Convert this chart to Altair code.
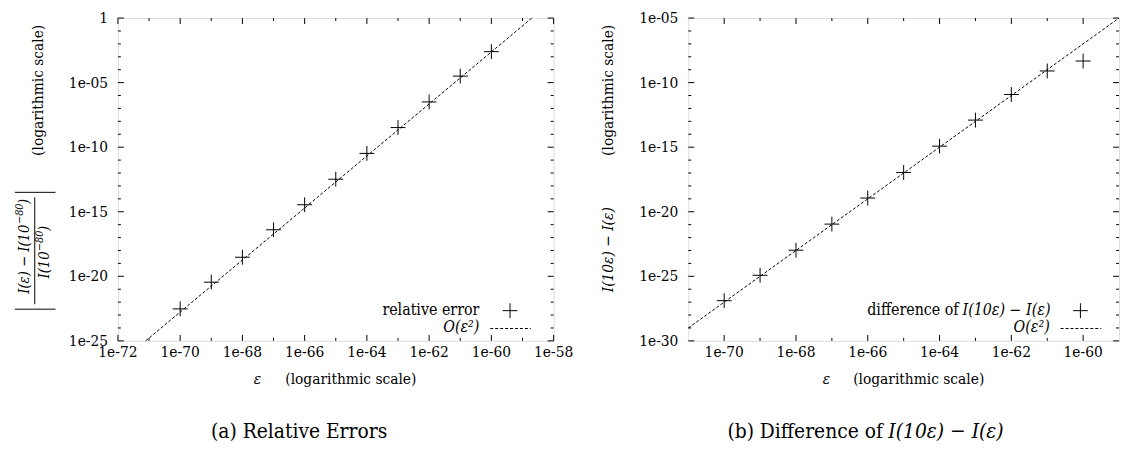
import altair as alt
import pandas as pd

FONT = "DejaVu Serif Condensed"
PLUS = "M-1,0L1,0M0,-1L0,1"

# ---------------- data ----------------
eps = [1e-70, 1e-69, 1e-68, 1e-67, 1e-66, 1e-65, 1e-64, 1e-63, 1e-62, 1e-61, 1e-60]
rel_err = [3.0e-23, 3.5e-21, 3.0e-19, 4.0e-17, 3.5e-15, 3.3e-13, 3.3e-11, 3.3e-9, 3.2e-7, 3.2e-5, 2.5e-3]
diff = [1.3e-27, 1.2e-25, 1.05e-23, 1.1e-21, 1.15e-19, 1.1e-17, 1.2e-15, 1.25e-13, 1.2e-11, 8.0e-10, 4.7e-9]

# O(eps^2) reference lines (end points on the frame)
o_eps_a = [7.8e-72, 2.0e-59]
o_val_a = [1e-25, 1.0]
o_eps_b = [1e-71, 1e-59]
o_val_b = [1e-29, 1e-5]

# axes
x_dom_a = [1e-72, 1e-58]
y_dom_a = [1e-25, 1.0]
x_major_a = [1e-72, 1e-70, 1e-68, 1e-66, 1e-64, 1e-62, 1e-60, 1e-58]
x_lab_a = ["1e-72", "1e-70", "1e-68", "1e-66", "1e-64", "1e-62", "1e-60", "1e-58"]
x_minor_a = [1e-71, 1e-69, 1e-67, 1e-65, 1e-63, 1e-61, 1e-59]
y_major_a = [1.0, 1e-5, 1e-10, 1e-15, 1e-20, 1e-25]
y_lab_a = ["1", "1e-05", "1e-10", "1e-15", "1e-20", "1e-25"]
y_minor_a = [10.0 ** -k for k in range(1, 25) if k % 5]

x_dom_b = [1e-71, 1e-59]
y_dom_b = [1e-30, 1e-5]
x_major_b = [1e-70, 1e-68, 1e-66, 1e-64, 1e-62, 1e-60]
x_lab_b = ["1e-70", "1e-68", "1e-66", "1e-64", "1e-62", "1e-60"]
x_minor_b = [1e-69, 1e-67, 1e-65, 1e-63, 1e-61]
y_major_b = [1e-5, 1e-10, 1e-15, 1e-20, 1e-25, 1e-30]
y_lab_b = ["1e-05", "1e-10", "1e-15", "1e-20", "1e-25", "1e-30"]
y_minor_b = [10.0 ** -k for k in range(6, 30) if k % 5]

H = 326
TS = 15.5   # tick label size
AS = 15.5   # axis title size
CS = 21     # caption size
LS = 16     # legend size
ONE = alt.Data(values=[{}])


def txt(s, x, y, size=AS, align="center", angle=0, style="normal"):
    return alt.Chart(ONE).mark_text(
        text=s, align=align, baseline="middle", angle=angle, fontSize=size,
        font=FONT, fontStyle=style, color="black"
    ).encode(x=alt.value(x), y=alt.value(y))


def seg(x1, x2, y1, y2, dash=None):
    kw = dict(color="black", strokeWidth=1)
    if dash:
        kw["strokeDash"] = dash
    return alt.Chart(ONE).mark_rule(**kw).encode(
        x=alt.value(x1), x2=alt.value(x2), y=alt.value(y1), y2=alt.value(y2))


def panel(W, xdom, ydom, xmaj, xlab, xmin, ymaj, ylab, ymin, yvals, o_eps, o_val, extra):
    xs = alt.Scale(type="log", domain=xdom, nice=False)
    ys = alt.Scale(type="log", domain=ydom, nice=False)
    layers = []
    for vals, L in ((xmaj, 6), (xmin, 3)):
        base = alt.Chart(pd.DataFrame({"v": vals})).mark_rule(color="black", strokeWidth=1)
        layers.append(base.encode(x=alt.X("v:Q", scale=xs, axis=None), y=alt.value(H), y2=alt.value(H - L)))
        layers.append(base.encode(x=alt.X("v:Q", scale=xs, axis=None), y=alt.value(0), y2=alt.value(L)))
    for vals, L in ((ymaj, 6), (ymin, 3)):
        base = alt.Chart(pd.DataFrame({"v": vals})).mark_rule(color="black", strokeWidth=1)
        layers.append(base.encode(y=alt.Y("v:Q", scale=ys, axis=None), x=alt.value(0), x2=alt.value(L)))
        layers.append(base.encode(y=alt.Y("v:Q", scale=ys, axis=None), x=alt.value(W), x2=alt.value(W - L)))
    # tick labels
    layers.append(alt.Chart(pd.DataFrame({"v": xmaj, "t": xlab})).mark_text(
        font=FONT, fontSize=TS, color="black", align="center", baseline="middle"
    ).encode(x=alt.X("v:Q", scale=xs, axis=None), y=alt.value(H + 11), text="t:N"))
    layers.append(alt.Chart(pd.DataFrame({"v": ymaj, "t": ylab})).mark_text(
        font=FONT, fontSize=TS, color="black", align="right", baseline="middle"
    ).encode(y=alt.Y("v:Q", scale=ys, axis=None), x=alt.value(-10), text="t:N"))
    line = alt.Chart(pd.DataFrame({"e": o_eps, "v": o_val})).mark_line(
        color="black", strokeWidth=1, strokeDash=[3, 2]
    ).encode(x=alt.X("e:Q", scale=xs, axis=None), y=alt.Y("v:Q", scale=ys, axis=None))
    pts = alt.Chart(pd.DataFrame({"eps": eps, "val": yvals})).mark_point(
        shape=PLUS, size=225, filled=False, color="black", strokeWidth=1, opacity=1
    ).encode(x=alt.X("eps:Q", scale=xs, axis=None), y=alt.Y("val:Q", scale=ys, axis=None))
    leg = [
        alt.Chart(ONE).mark_point(shape=PLUS, size=225, filled=False, color="black",
                                  strokeWidth=1, opacity=1).encode(x=alt.value(396), y=alt.value(295.5)),
        seg(376, 417, 313.5, 313.5, dash=[3, 2]),
        txt("O(ε²)", 365, 312.5, size=LS, align="right", style="italic"),
    ]
    return alt.layer(pts, line, *layers, *leg, *extra).properties(width=W, height=H)


WA, WB = 440, 435


def rot_expr(parts, x, y0):
    out = []
    y = y0
    for s, size, dx, w in parts:
        out.append(alt.Chart(ONE).mark_text(
            text=s, align="left", baseline="middle", angle=270, fontSize=size,
            font=FONT, fontStyle="italic", color="black"
        ).encode(x=alt.value(x + dx), y=alt.value(y)))
        y -= w
    return out


extra_a = [
    txt("(logarithmic scale)", -81, 73, angle=270),
    *rot_expr([("I(ε) − I(10", 14.8, 0, 70.6), ("−80", 10.8, -5, 20.1), (")", 14.8, 0, 5.1)], -94, 278.4),
    *rot_expr([("I(10", 14.8, 0, 27.8), ("−80", 10.8, -5, 20.1), (")", 14.8, 0, 5.1)], -73.5, 263),
    seg(-84, -84, 181, 289),
    seg(-104, -63, 176, 176),
    seg(-104, -63, 294, 294),
    txt("ε", 141, 365, style="italic"),
    txt("(logarithmic scale)", 169, 365, align="left"),
    txt("relative error", 365, 294.5, size=LS, align="right"),
    txt("(a) Relative Errors", 183, 418, size=CS),
]

extra_b = [
    txt("(logarithmic scale)", -81.5, 73, angle=270),
    txt("I(10ε) − I(ε)", -81.5, 234, angle=270, style="italic"),
    txt("ε", 139.5, 365, style="italic"),
    txt("(logarithmic scale)", 166.5, 365, align="left"),
    txt("difference of", 273, 294.5, size=LS, align="right"),
    txt("I(10ε) − I(ε)", 277, 294.5, size=LS, align="left", style="italic"),
    txt("(b) Difference of", 196.5, 418, size=CS, align="right"),
    txt("I(10ε) − I(ε)", 202, 418, size=CS, align="left", style="italic"),
]

left = panel(WA, x_dom_a, y_dom_a, x_major_a, x_lab_a, x_minor_a, y_major_a, y_lab_a, y_minor_a,
             rel_err, o_eps_a, o_val_a, extra_a)
right = panel(WB, x_dom_b, y_dom_b, x_major_b, x_lab_b, x_minor_b, y_major_b, y_lab_b, y_minor_b,
              diff, o_eps_b, o_val_b, extra_b)

chart = alt.hconcat(left, right, spacing=136, bounds="flush").properties(
    padding={"left": 5, "top": 0, "right": 0, "bottom": 0}
).configure_view(stroke="black", strokeWidth=1.5).configure(background="white")

chart.save("out.html", embed_options={"renderer": "svg", "actions": False})
